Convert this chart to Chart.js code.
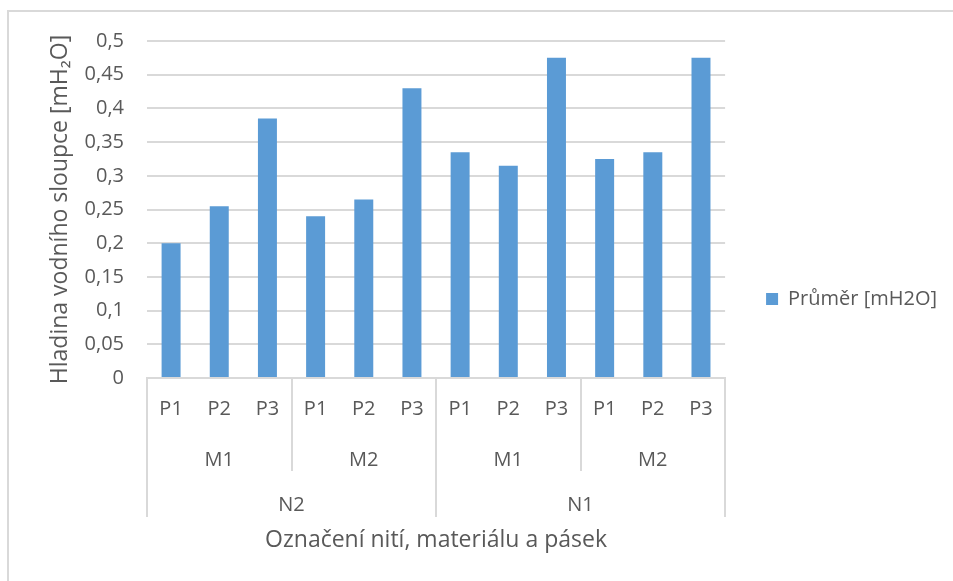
<!DOCTYPE html>
<html>
<head>
<meta charset="utf-8">
<script src="https://cdn.jsdelivr.net/npm/chart.js@4/dist/chart.umd.min.js"></script>
<style>
  html, body { margin: 0; padding: 0; background: #fff; }
  #wrap { position: relative; width: 953px; height: 581px; overflow: hidden; }
  #ramecek { position: absolute; left: 7px; top: 10px; right: -10px; bottom: -10px;
             border-left: 2px solid #d9d9d9; border-top: 2px solid #d9d9d9; }
  canvas { position: absolute; left: 0; top: 0; }
</style>
</head>
<body>
<div id="wrap">
  <div id="ramecek"></div>
  <canvas id="graf" width="953" height="581"></canvas>
</div>
<script>
// Kategorie: pásky (P) v rámci materiálu (M) v rámci nití (N)
const pasky = ['P1', 'P2', 'P3', 'P1', 'P2', 'P3', 'P1', 'P2', 'P3', 'P1', 'P2', 'P3'];
const materialy = ['M1', 'M2', 'M1', 'M2'];
const nite = ['N2', 'N1'];

// Průměrná hladina vodního sloupce [mH2O]
const prumer = [0.2, 0.255, 0.385, 0.24, 0.265, 0.43, 0.335, 0.315, 0.475, 0.325, 0.335, 0.475];

const nazevRady = 'Průměr [mH2O]';
const nazevOsyY = 'Hladina vodního sloupce [mH₂O]';
const nazevOsyX = 'Označení nití, materiálu a pásek';

const barvaTextu = '#595959';
const barvaCar = '#d9d9d9';
const pismo = { family: "'Open Sans', sans-serif", size: 20 };
const pismoNazvu = { family: "'Open Sans', sans-serif", size: 23 };

// Svislé oddělovače skupin pod osou x: mezi materiály přes dva řádky,
// mezi nitěmi a na okrajích přes tři řádky popisků
const oddelovace = {
  id: 'oddelovace',
  afterDraw(chart) {
    const { ctx } = chart;
    const { x, x2, x3 } = chart.scales;
    const konecM = x2.bottom;
    const konecN = x3.top + 46;
    const naMaterial = pasky.length / materialy.length;
    const naNit = pasky.length / nite.length;
    ctx.save();
    ctx.strokeStyle = barvaCar;
    ctx.lineWidth = 2;
    for (let i = 0; i <= pasky.length; i += naMaterial) {
      const px = Math.round(x.getPixelForValue(i - 0.5));
      ctx.beginPath();
      ctx.moveTo(px, x.top - 1);
      ctx.lineTo(px, i % naNit === 0 ? konecN : konecM);
      ctx.stroke();
    }
    ctx.restore();
  }
};

new Chart(document.getElementById('graf'), {
  type: 'bar',
  data: {
    labels: pasky,
    datasets: [{
      label: nazevRady,
      data: prumer,
      backgroundColor: '#5b9bd5',
      borderWidth: 0,
      categoryPercentage: 1,
      barPercentage: 0.394
    }]
  },
  options: {
    responsive: false,
    animation: false,
    layout: { padding: { top: 41, left: 0, right: 6, bottom: 24 } },
    plugins: {
      tooltip: { enabled: false },
      legend: {
        position: 'right',
        labels: {
          color: barvaTextu,
          font: pismo,
          boxWidth: 12,
          boxHeight: 12,
          padding: 41
        }
      }
    },
    scales: {
      y: {
        min: 0,
        max: 0.5,
        afterFit: s => { s.width = 147; },
        ticks: {
          stepSize: 0.05,
          color: barvaTextu,
          font: pismo,
          padding: 23,
          callback: v => String(Math.round(v * 100) / 100).replace('.', ',')
        },
        grid: { color: barvaCar, lineWidth: 2, drawTicks: false },
        border: { display: false },
        title: {
          display: true,
          text: nazevOsyY,
          color: barvaTextu,
          font: pismoNazvu,
          padding: { top: 47, bottom: 0 }
        }
      },
      x: {
        position: 'bottom',
        afterFit: s => { s.height = 62; },
        ticks: { color: barvaTextu, font: pismo, padding: 11, maxRotation: 0, autoSkip: false },
        grid: { display: false },
        border: { display: false }
      },
      x2: {
        type: 'category',
        position: 'bottom',
        labels: materialy,
        offset: true,
        afterFit: s => { s.height = 31; },
        ticks: { color: barvaTextu, font: pismo, padding: 0, maxRotation: 0, autoSkip: false },
        grid: { display: false },
        border: { display: false }
      },
      x3: {
        type: 'category',
        position: 'bottom',
        labels: nite,
        offset: true,
        afterFit: s => { s.height = 86; },
        ticks: { color: barvaTextu, font: pismo, padding: 14, maxRotation: 0, autoSkip: false },
        grid: { display: false },
        border: { display: false },
        title: {
          display: true,
          text: nazevOsyX,
          color: barvaTextu,
          font: pismoNazvu,
          padding: { top: 0, bottom: 3 }
        }
      }
    }
  },
  plugins: [oddelovace]
});
</script>
</body>
</html>
